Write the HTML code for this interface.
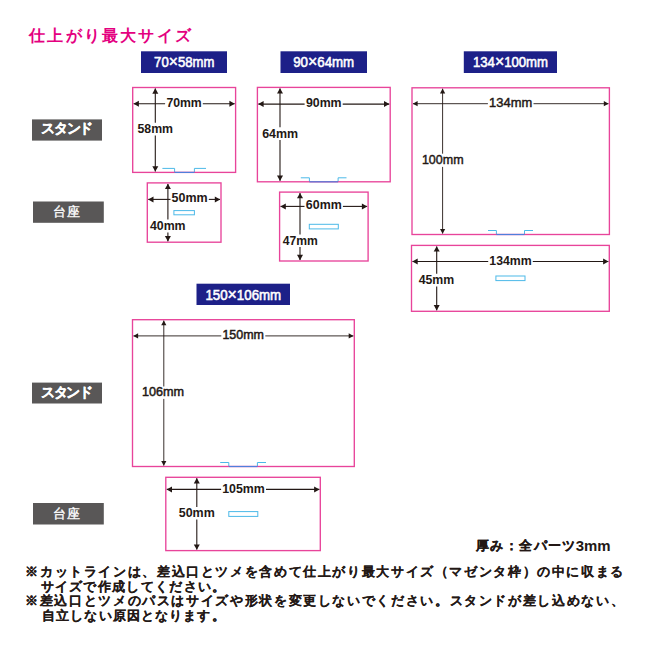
<!DOCTYPE html>
<html lang="ja"><head><meta charset="utf-8"><title>仕上がり最大サイズ</title><style>
html,body{margin:0;padding:0;background:#fff;width:650px;height:650px;overflow:hidden}
body{font-family:"Liberation Sans", sans-serif}
svg{position:absolute;left:0;top:0;display:block}
text{font-family:"Liberation Sans", sans-serif}
</style></head><body>
<svg width="650" height="650" viewBox="0 0 650 650">
<rect x="141" y="51.3" width="86.0" height="21.7" fill="#1d2088"/>
<rect x="280.5" y="51.3" width="86.5" height="21.7" fill="#1d2088"/>
<rect x="463.8" y="51.3" width="93.2" height="21.7" fill="#1d2088"/>
<rect x="196.5" y="283.7" width="93.5" height="21.3" fill="#1d2088"/>
<rect x="32" y="119.4" width="70.0" height="21.2" fill="#595757"/>
<rect x="33" y="201.5" width="70.8" height="21.3" fill="#595757"/>
<rect x="32" y="382.6" width="70.0" height="20.9" fill="#595757"/>
<rect x="33" y="503" width="70.8" height="21.5" fill="#595757"/>
<polyline points="162.4,168.4 174.6,168.4 174.6,172.4" fill="none" stroke="#4cb9e8" stroke-width="1"/>
<polyline points="194.4,172.4 194.4,168.4 206,168.4" fill="none" stroke="#4cb9e8" stroke-width="1"/>
<rect x="132.7" y="87.5" width="102.9" height="84.9" fill="none" stroke="#e8449a" stroke-width="1.35"/>
<line x1="174.6" y1="172.4" x2="194.4" y2="172.4" stroke="#4f7fdc" stroke-width="1.2"/>
<line x1="133.7" y1="103.7" x2="165.1" y2="103.7" stroke="#231815" stroke-width="1.1"/>
<line x1="202.8" y1="103.7" x2="234.6" y2="103.7" stroke="#231815" stroke-width="1.1"/>
<polygon points="133.5,103.7 138.9,100.7 138.9,106.7" fill="#231815"/>
<polygon points="234.8,103.7 229.4,100.7 229.4,106.7" fill="#231815"/>
<line x1="155.3" y1="88.5" x2="155.3" y2="122.8" stroke="#231815" stroke-width="1.1"/>
<line x1="155.3" y1="135.5" x2="155.3" y2="171.4" stroke="#231815" stroke-width="1.1"/>
<polygon points="155.3,88.3 152.3,93.7 158.3,93.7" fill="#231815"/>
<polygon points="155.3,171.6 152.3,166.2 158.3,166.2" fill="#231815"/>
<rect x="147.3" y="182.9" width="73.7" height="59.3" fill="none" stroke="#e8449a" stroke-width="1.35"/>
<rect x="173.9" y="210.6" width="20.5" height="4.2" fill="none" stroke="#4cb9e8" stroke-width="1"/>
<line x1="148.3" y1="199.4" x2="170.5" y2="199.4" stroke="#231815" stroke-width="1.1"/>
<line x1="208.8" y1="199.4" x2="220" y2="199.4" stroke="#231815" stroke-width="1.1"/>
<polygon points="148.1,199.4 153.5,196.4 153.5,202.4" fill="#231815"/>
<polygon points="220.2,199.4 214.8,196.4 214.8,202.4" fill="#231815"/>
<line x1="167.9" y1="183.9" x2="167.9" y2="219.5" stroke="#231815" stroke-width="1.1"/>
<line x1="167.9" y1="232.4" x2="167.9" y2="241.2" stroke="#231815" stroke-width="1.1"/>
<polygon points="167.9,183.7 164.9,189.1 170.9,189.1" fill="#231815"/>
<polygon points="167.9,241.4 164.9,236.0 170.9,236.0" fill="#231815"/>
<polyline points="300.8,177.8 309.4,177.8 309.4,181.8" fill="none" stroke="#4cb9e8" stroke-width="1"/>
<polyline points="338.1,181.8 338.1,177.8 346.5,177.8" fill="none" stroke="#4cb9e8" stroke-width="1"/>
<rect x="257.4" y="87.4" width="132.8" height="94.4" fill="none" stroke="#e8449a" stroke-width="1.35"/>
<line x1="309.4" y1="181.8" x2="338.1" y2="181.8" stroke="#4f7fdc" stroke-width="1.2"/>
<line x1="258.4" y1="104.1" x2="304.6" y2="104.1" stroke="#231815" stroke-width="1.1"/>
<line x1="342.7" y1="104.1" x2="389.2" y2="104.1" stroke="#231815" stroke-width="1.1"/>
<polygon points="258.2,104.1 263.6,101.1 263.6,107.1" fill="#231815"/>
<polygon points="389.4,104.1 384.0,101.1 384.0,107.1" fill="#231815"/>
<line x1="280.0" y1="88.4" x2="280.0" y2="127.3" stroke="#231815" stroke-width="1.1"/>
<line x1="280.0" y1="140.1" x2="280.0" y2="180.8" stroke="#231815" stroke-width="1.1"/>
<polygon points="280.0,88.2 277.0,93.6 283.0,93.6" fill="#231815"/>
<polygon points="280.0,181.0 277.0,175.6 283.0,175.6" fill="#231815"/>
<rect x="279.6" y="192.1" width="88.5" height="68.9" fill="none" stroke="#e8449a" stroke-width="1.35"/>
<rect x="309.3" y="224.3" width="29.0" height="4.6" fill="none" stroke="#4cb9e8" stroke-width="1"/>
<line x1="280.6" y1="206.4" x2="304.5" y2="206.4" stroke="#231815" stroke-width="1.1"/>
<line x1="342.9" y1="206.4" x2="367.1" y2="206.4" stroke="#231815" stroke-width="1.1"/>
<polygon points="280.4,206.4 285.8,203.4 285.8,209.4" fill="#231815"/>
<polygon points="367.3,206.4 361.9,203.4 361.9,209.4" fill="#231815"/>
<line x1="300.0" y1="193.1" x2="300.0" y2="234.4" stroke="#231815" stroke-width="1.1"/>
<line x1="300.0" y1="246.9" x2="300.0" y2="260.0" stroke="#231815" stroke-width="1.1"/>
<polygon points="300.0,192.9 297.0,198.3 303.0,198.3" fill="#231815"/>
<polygon points="300.0,260.2 297.0,254.8 303.0,254.8" fill="#231815"/>
<polyline points="488,230.5 496.4,230.5 496.4,234.5" fill="none" stroke="#4cb9e8" stroke-width="1"/>
<polyline points="524.5,234.5 524.5,230.5 533,230.5" fill="none" stroke="#4cb9e8" stroke-width="1"/>
<rect x="412" y="87.8" width="197.4" height="146.7" fill="none" stroke="#e8449a" stroke-width="1.35"/>
<line x1="496.4" y1="234.5" x2="524.5" y2="234.5" stroke="#4f7fdc" stroke-width="1.2"/>
<line x1="413" y1="103.7" x2="487.9" y2="103.7" stroke="#231815" stroke-width="0.9"/>
<line x1="533.5" y1="103.7" x2="608.4" y2="103.7" stroke="#231815" stroke-width="0.9"/>
<polygon points="412.8,103.7 417.6,101.1 417.6,106.3" fill="#231815"/>
<polygon points="608.6,103.7 603.8,101.1 603.8,106.3" fill="#231815"/>
<line x1="442.6" y1="88.8" x2="442.6" y2="153.7" stroke="#231815" stroke-width="0.9"/>
<line x1="442.6" y1="166.9" x2="442.6" y2="233.5" stroke="#231815" stroke-width="0.9"/>
<polygon points="442.6,88.6 440.0,93.4 445.2,93.4" fill="#231815"/>
<polygon points="442.6,233.7 440.0,228.9 445.2,228.9" fill="#231815"/>
<rect x="411.5" y="245.4" width="197.8" height="65.9" fill="none" stroke="#e8449a" stroke-width="1.35"/>
<rect x="495.9" y="276" width="29.1" height="4.6" fill="none" stroke="#4cb9e8" stroke-width="1"/>
<line x1="412.5" y1="261.5" x2="488.2" y2="261.5" stroke="#231815" stroke-width="1.1"/>
<line x1="532.8" y1="261.5" x2="608.3" y2="261.5" stroke="#231815" stroke-width="1.1"/>
<polygon points="412.3,261.5 417.7,258.5 417.7,264.5" fill="#231815"/>
<polygon points="608.5,261.5 603.1,258.5 603.1,264.5" fill="#231815"/>
<line x1="436.7" y1="246.4" x2="436.7" y2="273.8" stroke="#231815" stroke-width="1.1"/>
<line x1="436.7" y1="286.4" x2="436.7" y2="310.3" stroke="#231815" stroke-width="1.1"/>
<polygon points="436.7,246.2 433.7,251.6 439.7,251.6" fill="#231815"/>
<polygon points="436.7,310.5 433.7,305.1 439.7,305.1" fill="#231815"/>
<polyline points="220.2,462.5 228.8,462.5 228.8,466.5" fill="none" stroke="#4cb9e8" stroke-width="1"/>
<polyline points="257.4,466.5 257.4,462.5 266,462.5" fill="none" stroke="#4cb9e8" stroke-width="1"/>
<rect x="132.5" y="319.7" width="221.8" height="146.8" fill="none" stroke="#e8449a" stroke-width="1.35"/>
<line x1="228.8" y1="466.5" x2="257.4" y2="466.5" stroke="#4f7fdc" stroke-width="1.2"/>
<line x1="133.5" y1="335.9" x2="221.3" y2="335.9" stroke="#231815" stroke-width="0.9"/>
<line x1="265.3" y1="335.9" x2="353.3" y2="335.9" stroke="#231815" stroke-width="0.9"/>
<polygon points="133.3,335.9 138.1,333.3 138.1,338.5" fill="#231815"/>
<polygon points="353.5,335.9 348.7,333.3 348.7,338.5" fill="#231815"/>
<line x1="163.8" y1="320.7" x2="163.8" y2="386.5" stroke="#231815" stroke-width="0.9"/>
<line x1="163.8" y1="398.9" x2="163.8" y2="465.5" stroke="#231815" stroke-width="0.9"/>
<polygon points="163.8,320.5 161.2,325.3 166.4,325.3" fill="#231815"/>
<polygon points="163.8,465.7 161.2,460.9 166.4,460.9" fill="#231815"/>
<rect x="165.8" y="477.3" width="154.5" height="73.3" fill="none" stroke="#e8449a" stroke-width="1.35"/>
<rect x="228.8" y="511.6" width="29.0" height="4.8" fill="none" stroke="#4cb9e8" stroke-width="1"/>
<line x1="166.8" y1="489.4" x2="221.1" y2="489.4" stroke="#231815" stroke-width="1.1"/>
<line x1="266.0" y1="489.4" x2="319.3" y2="489.4" stroke="#231815" stroke-width="1.1"/>
<polygon points="166.6,489.4 172.0,486.4 172.0,492.4" fill="#231815"/>
<polygon points="319.5,489.4 314.1,486.4 314.1,492.4" fill="#231815"/>
<line x1="196.8" y1="478.3" x2="196.8" y2="507.0" stroke="#231815" stroke-width="1.1"/>
<line x1="196.8" y1="519.5" x2="196.8" y2="549.6" stroke="#231815" stroke-width="1.1"/>
<polygon points="196.8,478.1 193.8,483.5 199.8,483.5" fill="#231815"/>
<polygon points="196.8,549.8 193.8,544.4 199.8,544.4" fill="#231815"/>
<text x="29.10" y="41.46" font-size="16.00" font-weight="700" fill="#e4007f" textLength="161.60" lengthAdjust="spacing">仕上がり最大サイズ</text>
<text x="154.12" y="66.75" font-size="14.00" font-weight="400" fill="#fff" stroke="#fff" stroke-width="0.55" textLength="60.26" lengthAdjust="spacingAndGlyphs">70<tspan font-size="1.2em">×</tspan>58mm</text>
<text x="293.17" y="67.11" font-size="14.00" font-weight="400" fill="#fff" stroke="#fff" stroke-width="0.55" textLength="61.02" lengthAdjust="spacingAndGlyphs">90<tspan font-size="1.2em">×</tspan>64mm</text>
<text x="472.96" y="66.95" font-size="14.00" font-weight="400" fill="#fff" stroke="#fff" stroke-width="0.55" textLength="75.08" lengthAdjust="spacingAndGlyphs">134<tspan font-size="1.2em">×</tspan>100mm</text>
<text x="205.38" y="299.55" font-size="14.00" font-weight="400" fill="#fff" stroke="#fff" stroke-width="0.55" textLength="75.82" lengthAdjust="spacingAndGlyphs">150<tspan font-size="1.2em">×</tspan>106mm</text>
<text x="41.24" y="133.16" font-size="13.50" font-weight="700" fill="#fff" stroke="#fff" stroke-width="0.3" textLength="51.99" lengthAdjust="spacing">スタンド</text>
<text x="53.41" y="215.98" font-size="13.00" font-weight="400" fill="#fff" stroke="#fff" stroke-width="0.35" textLength="27.07" lengthAdjust="spacing">台座</text>
<text x="40.94" y="396.55" font-size="13.50" font-weight="700" fill="#fff" stroke="#fff" stroke-width="0.3" textLength="51.99" lengthAdjust="spacing">スタンド</text>
<text x="52.89" y="518.46" font-size="13.00" font-weight="400" fill="#fff" stroke="#fff" stroke-width="0.35" textLength="27.20" lengthAdjust="spacing">台座</text>
<text x="166.39" y="106.68" font-size="13.00" font-weight="700" fill="#231815" textLength="35.36" lengthAdjust="spacingAndGlyphs">70mm</text>
<text x="137.47" y="133.00" font-size="13.00" font-weight="700" fill="#231815" textLength="35.56" lengthAdjust="spacingAndGlyphs">58mm</text>
<text x="171.60" y="202.34" font-size="13.00" font-weight="700" fill="#231815" textLength="36.15" lengthAdjust="spacingAndGlyphs">50mm</text>
<text x="149.92" y="230.09" font-size="13.00" font-weight="700" fill="#231815" textLength="35.69" lengthAdjust="spacingAndGlyphs">40mm</text>
<text x="305.90" y="106.89" font-size="13.00" font-weight="700" fill="#231815" textLength="35.70" lengthAdjust="spacingAndGlyphs">90mm</text>
<text x="262.14" y="137.84" font-size="13.00" font-weight="700" fill="#231815" textLength="35.97" lengthAdjust="spacingAndGlyphs">64mm</text>
<text x="305.84" y="209.19" font-size="13.00" font-weight="700" fill="#231815" textLength="35.87" lengthAdjust="spacingAndGlyphs">60mm</text>
<text x="282.73" y="244.72" font-size="13.00" font-weight="700" fill="#231815" textLength="35.09" lengthAdjust="spacingAndGlyphs">47mm</text>
<text x="489.09" y="106.95" font-size="13.00" font-weight="400" fill="#231815" stroke="#231815" stroke-width="0.45" textLength="43.10" lengthAdjust="spacingAndGlyphs">134mm</text>
<text x="421.88" y="163.63" font-size="13.00" font-weight="400" fill="#231815" stroke="#231815" stroke-width="0.45" textLength="41.72" lengthAdjust="spacingAndGlyphs">100mm</text>
<text x="489.34" y="265.30" font-size="13.00" font-weight="700" fill="#231815" textLength="42.43" lengthAdjust="spacingAndGlyphs">134mm</text>
<text x="418.63" y="283.55" font-size="13.00" font-weight="700" fill="#231815" textLength="35.58" lengthAdjust="spacingAndGlyphs">45mm</text>
<text x="222.39" y="338.55" font-size="13.00" font-weight="400" fill="#231815" stroke="#231815" stroke-width="0.5" textLength="41.57" lengthAdjust="spacingAndGlyphs">150mm</text>
<text x="141.99" y="396.31" font-size="13.00" font-weight="400" fill="#231815" stroke="#231815" stroke-width="0.5" textLength="42.18" lengthAdjust="spacingAndGlyphs">106mm</text>
<text x="222.13" y="493.00" font-size="13.00" font-weight="700" fill="#231815" textLength="42.65" lengthAdjust="spacingAndGlyphs">105mm</text>
<text x="178.75" y="516.60" font-size="13.00" font-weight="700" fill="#231815" textLength="36.03" lengthAdjust="spacingAndGlyphs">50mm</text>
<text x="475.88" y="550.31" font-size="13.00" font-weight="700" fill="#231815" stroke="#231815" stroke-width="0.25" textLength="99.55" lengthAdjust="spacing">厚み：全パーツ</text>
<text x="575.75" y="551.01" font-size="14.40" font-weight="700" fill="#231815" textLength="34.92" lengthAdjust="spacingAndGlyphs">3mm</text>
<text x="25.31" y="576.27" font-size="12.60" font-weight="700" fill="#231815" stroke="#231815" stroke-width="0.12" textLength="597.95" lengthAdjust="spacing">※カットラインは、差込口とツメを含めて仕上がり最大サイズ（マゼンタ枠）の中に収まる</text>
<text x="40.56" y="591.41" font-size="12.60" font-weight="700" fill="#231815" stroke="#231815" stroke-width="0.12" textLength="184.63" lengthAdjust="spacing">サイズで作成してください。</text>
<text x="25.06" y="605.11" font-size="12.60" font-weight="700" fill="#231815" stroke="#231815" stroke-width="0.12" textLength="598.46" lengthAdjust="spacing">※差込口とツメのパスはサイズや形状を変更しないでください。スタンドが差し込めない、</text>
<text x="42.03" y="620.22" font-size="12.60" font-weight="700" fill="#231815" stroke="#231815" stroke-width="0.12" textLength="182.53" lengthAdjust="spacing">自立しない原因となります。</text>
</svg></body></html>
